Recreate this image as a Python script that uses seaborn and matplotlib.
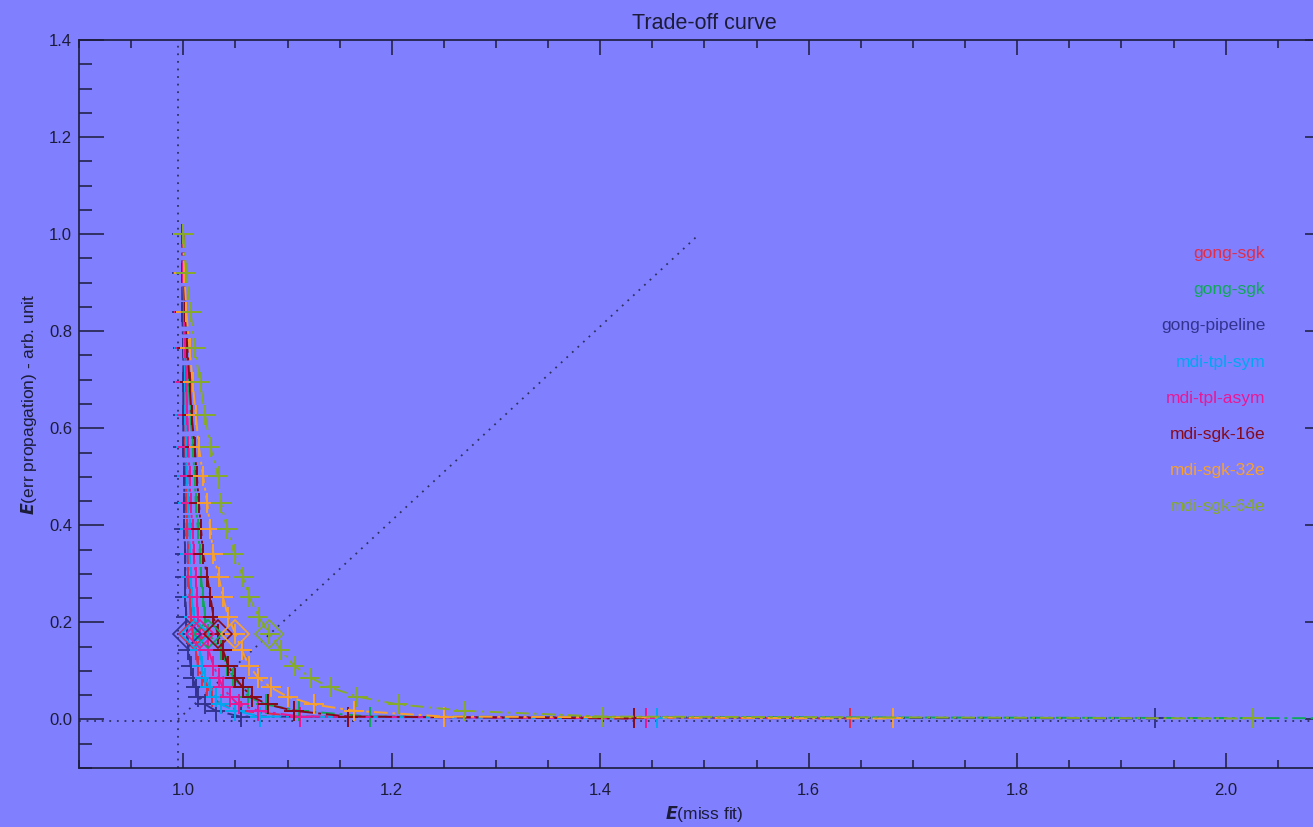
import matplotlib
matplotlib.use("Agg")
import matplotlib.pyplot as plt
import pandas as pd
import seaborn as sns
from matplotlib.ticker import MultipleLocator, FormatStrFormatter

# Normalised error propagation, shared by every kernel set (one value per regularisation step)
err_propagation = [1.000, 0.919, 0.839, 0.765, 0.695, 0.627, 0.561, 0.502, 0.446, 0.393,
                   0.341, 0.294, 0.253, 0.212, 0.177, 0.144, 0.111, 0.086, 0.066, 0.047,
                   0.031, 0.018, 0.006, 0.002]

# Normalised misfit for each kernel set
misfit_gong_sgk_a = [1.000, 1.000, 1.000, 1.001, 1.001, 1.002, 1.002, 1.003, 1.003, 1.004,
                     1.005, 1.005, 1.006, 1.007, 1.009, 1.012, 1.014, 1.018, 1.023, 1.028,
                     1.036, 1.055, 1.112, 1.640]
misfit_gong_sgk_b = [1.000, 1.001, 1.002, 1.003, 1.005, 1.007, 1.009, 1.011, 1.012, 1.014,
                     1.016, 1.017, 1.019, 1.021, 1.024, 1.036, 1.042, 1.048, 1.057, 1.062,
                     1.079, 1.111, 1.179, 2.245]
misfit_gong_pipeline = [0.999, 0.999, 0.999, 1.000, 1.000, 1.000, 1.000, 1.001, 1.001, 1.001,
                        1.002, 1.002, 1.002, 1.003, 1.004, 1.005, 1.007, 1.009, 1.012, 1.014,
                        1.021, 1.031, 1.055, 1.932]
misfit_mdi_tpl_sym = [1.000, 1.000, 1.001, 1.001, 1.002, 1.002, 1.003, 1.004, 1.005, 1.006,
                      1.006, 1.007, 1.008, 1.010, 1.011, 1.016, 1.018, 1.021, 1.026, 1.031,
                      1.036, 1.050, 1.074, 1.454]
misfit_mdi_tpl_asym = [1.000, 1.000, 1.001, 1.002, 1.003, 1.004, 1.005, 1.006, 1.007, 1.009,
                       1.010, 1.012, 1.013, 1.014, 1.016, 1.024, 1.029, 1.034, 1.038, 1.045,
                       1.053, 1.072, 1.112, 1.444]
misfit_mdi_sgk_16e = [1.000, 1.001, 1.002, 1.004, 1.006, 1.008, 1.011, 1.013, 1.015, 1.017,
                      1.019, 1.023, 1.026, 1.029, 1.033, 1.038, 1.043, 1.050, 1.057, 1.066,
                      1.081, 1.106, 1.158, 1.432]
misfit_mdi_sgk_32e = [1.000, 1.001, 1.003, 1.006, 1.009, 1.012, 1.015, 1.019, 1.023, 1.026,
                      1.029, 1.034, 1.038, 1.043, 1.050, 1.056, 1.063, 1.072, 1.084, 1.100,
                      1.125, 1.164, 1.250, 1.681]
misfit_mdi_sgk_64e = [1.000, 1.003, 1.007, 1.011, 1.016, 1.021, 1.026, 1.033, 1.036, 1.042,
                      1.049, 1.057, 1.063, 1.072, 1.082, 1.093, 1.106, 1.122, 1.141, 1.167,
                      1.206, 1.269, 1.402, 2.026]

series_names = ["gong-sgk", "gong-sgk", "gong-pipeline", "mdi-tpl-sym", "mdi-tpl-asym",
                "mdi-sgk-16e", "mdi-sgk-32e", "mdi-sgk-64e"]
series_misfit = [misfit_gong_sgk_a, misfit_gong_sgk_b, misfit_gong_pipeline, misfit_mdi_tpl_sym,
                 misfit_mdi_tpl_asym, misfit_mdi_sgk_16e, misfit_mdi_sgk_32e, misfit_mdi_sgk_64e]
series_colors = ["#e02d48", "#0fa858", "#33338f", "#00a8f0", "#e81896", "#870a1a", "#f7a030", "#86aa2a"]

# Step chosen as the optimal trade-off on each curve
knee_index = 14

BG = "#8080ff"
INK = "#1c1c3a"

sns.set_theme(style="ticks")
plt.rcParams["font.family"] = ["Liberation Sans", "DejaVu Sans"]
plt.rcParams["mathtext.fontset"] = "dejavusans"

fig = plt.figure(figsize=(13.13, 8.27), dpi=100, facecolor=BG)
ax = fig.add_axes([79 / 1313, 59 / 827, 1251 / 1313, 728 / 827])
ax.set_facecolor(BG)

dot = (0, (1, 3.2))
ax.axvline(0.995, color="#303060", lw=1.3, ls=dot, zorder=1)
ax.axhline(-0.003, color="#303060", lw=1.3, ls=dot, zorder=1)
ax.plot([0.995, 1.495], [0.0, 1.0], color="#303060", lw=1.3, ls=dot, zorder=1)

dashdot = (0, (7, 2.5, 1.5, 2.5))
for name, xs, col in zip(series_names, series_misfit, series_colors):
    df = pd.DataFrame({"misfit": xs, "err": err_propagation})
    sns.lineplot(data=df, x="misfit", y="err", sort=False, estimator=None, ax=ax,
                 color=col, lw=1.4, linestyle=dashdot, marker="+", markersize=15,
                 markeredgewidth=1.4, markeredgecolor=col, legend=False, zorder=3)
    ax.plot([xs[knee_index]], [err_propagation[knee_index]], marker="D", markersize=14,
            markerfacecolor="none", markeredgecolor=col, markeredgewidth=1.2,
            linestyle="none", zorder=4)

for i, (name, col) in enumerate(zip(series_names, series_colors)):
    ax.text(2.038, 0.96 - i * 0.0746, name, color=col, ha="right", va="center",
            fontsize=12.5, zorder=5)

ax.set_xlim(0.9, 2.1)
ax.set_ylim(-0.1, 1.4)
ax.xaxis.set_major_locator(MultipleLocator(0.2))
ax.xaxis.set_minor_locator(MultipleLocator(0.05))
ax.yaxis.set_major_locator(MultipleLocator(0.2))
ax.yaxis.set_minor_locator(MultipleLocator(0.05))
ax.xaxis.set_major_formatter(FormatStrFormatter("%.1f"))
ax.yaxis.set_major_formatter(FormatStrFormatter("%.1f"))

ax.tick_params(which="both", direction="in", top=True, right=True, color=INK,
               labelcolor=INK, width=1.1, labelsize=12)
ax.tick_params(axis="x", which="major", length=11, pad=11)
ax.tick_params(axis="x", which="minor", length=5.5)
ax.tick_params(axis="y", which="major", length=18, pad=5)
ax.tick_params(axis="y", which="minor", length=9)
for sp in ax.spines.values():
    sp.set_color(INK)
    sp.set_linewidth(1.2)

ax.set_xlabel(r"$\mathbfit{E}$(miss fit)", fontsize=12.5, color=INK, labelpad=4)
ax.set_ylabel(r"$\mathbfit{E}$(err propagation) - arb. unit", fontsize=12.5, color=INK, labelpad=7)
ax.set_title("Trade-off curve", fontsize=15.5, color=INK, pad=8)

fig.savefig("out.png", dpi=100, facecolor=BG)
